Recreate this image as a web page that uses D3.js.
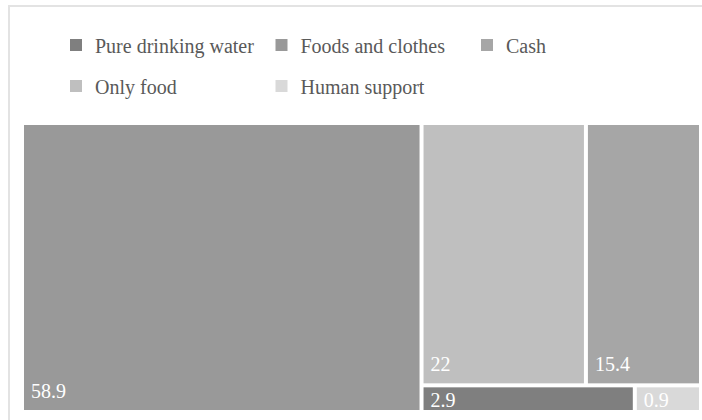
<!DOCTYPE html>
<html>
<head>
<meta charset="utf-8">
<script src="https://cdn.jsdelivr.net/npm/d3@7"></script>
<style>
  body { margin: 0; background: #fff; }
</style>
</head>
<body>
<svg width="702" height="420"></svg>
<script>
// legend order
let categories = ['Pure drinking water', 'Foods and clothes', 'Cash', 'Only food', 'Human support'];
let values = [2.9, 58.9, 15.4, 22, 0.9];
let colors = ['#7f7f7f', '#999999', '#a6a6a6', '#bfbfbf', '#d9d9d9'];

let svg = d3.select('svg');
const font = "Times New Roman, Times, Liberation Serif, Tinos, DejaVu Serif, Noto Serif, serif";

// light frame, only top and left edges show
svg.append('rect')
  .attr('x', 9)
  .attr('y', 6)
  .attr('width', 800)
  .attr('height', 500)
  .attr('fill', 'none')
  .attr('stroke', '#e3e3e3')
  .attr('stroke-width', 2);

const color = d3.scaleOrdinal().domain(categories).range(colors);

// legend, 3 per row
let legend = svg.append('g')
  .selectAll('g')
  .data(categories)
  .enter()
  .append('g')
  .attr('transform', (d, i) => `translate(${70 + (i % 3) * 205.5}, ${45 + Math.floor(i / 3) * 41})`);

legend.append('rect')
  .attr('x', 0)
  .attr('y', -6)
  .attr('width', 12)
  .attr('height', 12)
  .attr('fill', d => color(d));

legend.append('text')
  .attr('x', 25)
  .attr('y', 8)
  .style('font-family', font)
  .attr('font-size', 20)
  .attr('fill', '#595959')
  .text(d => d);

// treemap
let x0 = 24, y0 = 125, x1 = 699, y1 = 410;

let root = d3.hierarchy({children: categories.map((c, i) => ({name: c, value: values[i]}))})
  .sum(d => d.value || 0)
  .sort((a, b) => b.value - a.value);

d3.treemap()
  .size([x1 - x0, y1 - y0])
  .paddingInner(4)(root);

let cell = svg.append('g')
  .attr('transform', `translate(${x0}, ${y0})`)
  .selectAll('g')
  .data(root.leaves())
  .enter()
  .append('g');

cell.append('rect')
  .attr('x', d => d.x0)
  .attr('y', d => d.y0)
  .attr('width', d => d.x1 - d.x0)
  .attr('height', d => d.y1 - d.y0)
  .attr('fill', d => color(d.data.name));

// value labels sit near the bottom left; short cells push them to the top
cell.append('text')
  .attr('x', d => d.x0 + 7)
  .attr('y', d => Math.max(d.y1 - 12, d.y0 + 20))
  .style('font-family', font)
  .attr('font-size', 20)
  .attr('fill', '#fff')
  .text(d => d.data.value);
</script>
</body>
</html>
